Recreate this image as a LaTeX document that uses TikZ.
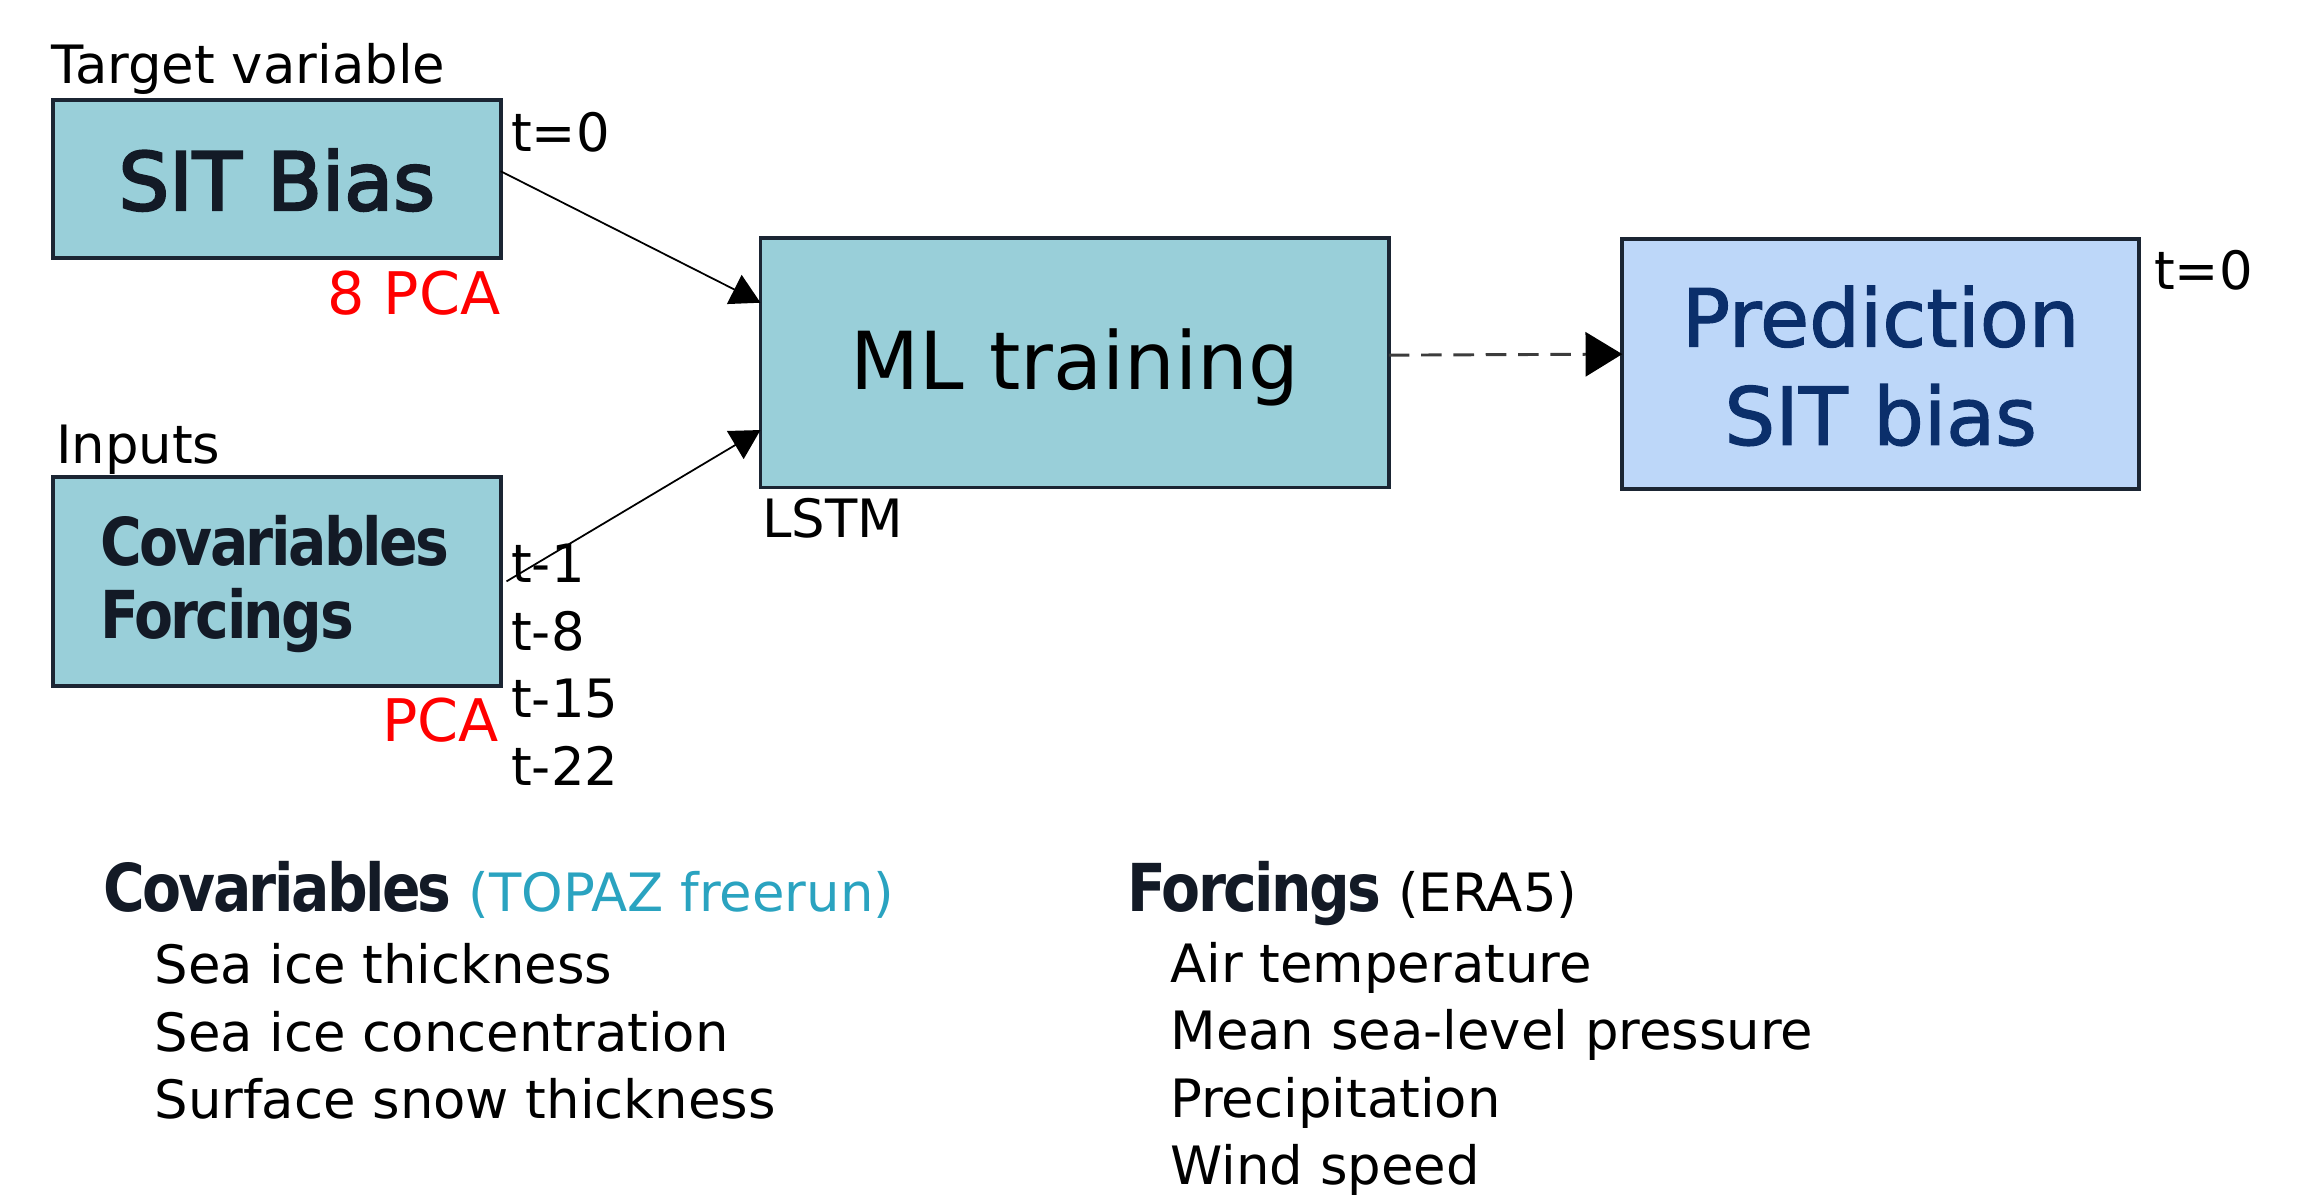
\documentclass[tikz,border=0pt]{standalone}
\usepackage{fontspec}
\setmainfont{DejaVu Sans}
\newfontfamily\headfont[FakeStretch=0.86,LetterSpace=-3.9]{DejaVu Sans}
\newfontfamily\heavyfont[FakeBold=3]{DejaVu Sans}
\newfontfamily\medfont[FakeBold=1.5]{DejaVu Sans}
\usetikzlibrary{arrows.meta,calc}
\definecolor{tealfill}{HTML}{99CFD9}
\definecolor{predfill}{HTML}{BDD7F9}
\definecolor{boxline}{HTML}{1B2533}
\definecolor{predtext}{HTML}{0B2F6B}
\definecolor{headtext}{HTML}{131A26}
\definecolor{topaz}{HTML}{2AA3C0}
\definecolor{pcared}{HTML}{FF0000}
\definecolor{dashgray}{HTML}{3C3C3C}
\begin{document}
\begin{tikzpicture}[x=1pt,y=-1pt,
  boxstyle/.style={draw=boxline, line width=2.6pt, inner sep=0pt, outer sep=0pt, anchor=north west},
  small/.style={font=\fontsize{36}{40}\selectfont, inner sep=0pt, anchor=base west, text=black},
  big/.style={font=\fontsize{54.5}{60}\selectfont, inner sep=0pt, anchor=base},
  headstyle/.style={font=\headfont\bfseries\fontsize{45}{50}\selectfont, inner sep=0pt, anchor=base west, text=headtext},
  pcalabel/.style={font=\fontsize{40}{44}\selectfont, inner sep=0pt, anchor=base east, text=pcared},
  thinarrow/.style={draw=black, line width=1.2pt, -{Triangle[length=20pt,width=22pt]}},
  dasharrow/.style={draw=dashgray, line width=2pt, dash pattern=on 14pt off 8pt,
     -{Triangle[length=25pt,width=30pt,color=black,fill=black]}}
]
\useasboundingbox (0,0) rectangle (1568,819.4);

% boxes
\node[boxstyle, fill=tealfill, minimum width=305, minimum height=108] (sit) at (36,68) {};
\node[big, font=\heavyfont\fontsize{54.5}{60}\selectfont, text=headtext] (sitlabel) at (188.5,143) {SIT Bias};

\node[boxstyle, fill=tealfill, minimum width=305, minimum height=142] (cov) at (36,325) {};
\node[headstyle] (covlabel) at (68,385) {Covariables};
\node[headstyle] (forlabel) at (68,435) {Forcings};

\node[boxstyle, fill=tealfill, minimum width=428, minimum height=170] (ml) at (518,162) {};
\node[big, text=black] (mllabel) at (732,265) {ML training};

\node[boxstyle, fill=predfill, minimum width=352, minimum height=170] (pred) at (1105,163) {};
\node[big, font=\medfont\fontsize{54.5}{60}\selectfont, text=predtext] (predl1) at (1281,236) {Prediction};
\node[big, font=\medfont\fontsize{54.5}{60}\selectfont, text=predtext] (predl2) at (1281,303) {SIT bias};

% labels
\node[small] (target) at (35,57) {Target variable};
\node[small] (t0a) at (348,103) {t=0};
\node[pcalabel] (pca8) at (341,214) {8 PCA};
\node[small] (inputs) at (38,316) {Inputs};
\node[small] (tm1) at (348,397) {t-1};
\node[small] (tm8) at (348,443) {t-8};
\node[small] (tm15) at (348,489) {t-15};
\node[small] (tm22) at (348,535) {t-22};
\node[pcalabel] (pca) at (340,505) {PCA};
\node[small] (lstm) at (519,366) {LSTM};
\node[small] (t0b) at (1467,197) {t=0};

% connectors
\coordinate (a1s) at ($(sit.north east)!0.45!(sit.south east)$);
\coordinate (a1e) at ($(ml.north west)!0.26!(ml.south west)$);
\coordinate (a2s) at ($(cov.north east)!0.5!(cov.south east)+(4,0)$);
\coordinate (a2e) at ($(ml.north west)!0.77!(ml.south west)$);
\coordinate (a3s) at ($(ml.north east)!0.47!(ml.south east)$);
\coordinate (a3e) at ($(pred.north west)!0.46!(pred.south west)$);
\draw[thinarrow] (a1s) -- (a1e);
\draw[thinarrow] (a2s) -- (a2e);
\draw[dasharrow] (a3s) -- (a3e);

% bottom lists
\node[headstyle] (covhead) at (70,621) {Covariables{\normalfont\fontsize{36}{40}\selectfont\color{topaz}\ (TOPAZ freerun)}};
\node[small] (c1) at (105,670) {Sea ice thickness};
\node[small] (c2) at (105,716) {Sea ice concentration};
\node[small] (c3) at (105,762) {Surface snow thickness};

\node[headstyle] (forhead) at (768,621) {Forcings{\normalfont\fontsize{36}{40}\selectfont\color{black}\ (ERA5)}};
\node[small] (f1) at (797,669) {Air temperature};
\node[small] (f2) at (797,715) {Mean sea-level pressure};
\node[small] (f3) at (797,761) {Precipitation};
\node[small] (f4) at (797,807) {Wind speed};
\end{tikzpicture}
\end{document}
